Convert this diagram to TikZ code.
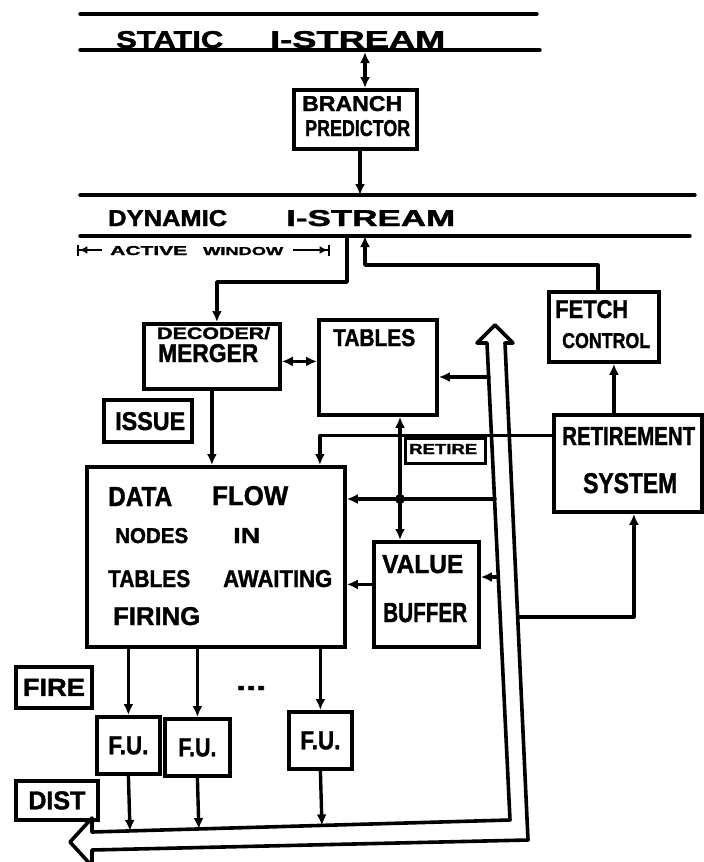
\documentclass[tikz,border=0pt]{standalone}
\usepackage{fontspec}
\setmainfont{Liberation Sans}[BoldFeatures={FakeBold=1.5}]
\usepackage{graphicx}
\usetikzlibrary{arrows.meta,calc}
\newcommand\tx[3]{\resizebox{#1pt}{#2pt}{\bfseries #3}}
\begin{document}
\begin{tikzpicture}[x=1pt,y=-1pt,
  ln/.style={line width=3.4pt, line cap=round, line join=round},
  conn/.style={ln, -{Latex[length=11pt,width=10pt]}},
  conn2/.style={ln, {Latex[length=11pt,width=10pt]}-{Latex[length=11pt,width=10pt]}},
  box/.style={draw, line width=3.8pt, inner sep=0pt, anchor=north west},
  smallbox/.style={draw, line width=2.8pt, inner sep=0pt, anchor=north west},
  lab/.style={inner sep=0pt, anchor=base west},
  ctr/.style={inner sep=0pt, anchor=center},
]
\useasboundingbox (0,0) rectangle (704,862);

% stream bars
\draw[ln] (80,14) -- (537,14);
\draw[ln] (80,50) -- (540,50);
\draw[ln] (80,195) -- (695,195);
\draw[ln] (80,236) -- (690,236);

% boxes
\node[box, minimum width=123pt, minimum height=59pt] (bp) at (292,88) {};
\node[box, minimum width=136pt, minimum height=65pt] (dec) at (142,322) {};
\node[box, minimum width=118pt, minimum height=95pt] (tab) at (317,318) {};
\node[box, minimum width=88pt, minimum height=42pt] (iss) at (102,398) {};
\node[box, minimum width=110pt, minimum height=70pt] (fc) at (547,290) {};
\node[box, minimum width=148pt, minimum height=97pt] (ret) at (552,413) {};
\node[smallbox, minimum width=80pt, minimum height=25pt] (rtl) at (404,437) {};
\node[box, minimum width=258pt, minimum height=180pt] (df) at (85,465) {};
\node[box, minimum width=105pt, minimum height=105pt] (vb) at (372,540) {};
\node[box, minimum width=63pt, minimum height=57pt] (fu1) at (95,715) {};
\node[box, minimum width=65pt, minimum height=57pt] (fu2) at (163,717) {};
\node[box, minimum width=63pt, minimum height=57pt] (fu3) at (287,710) {};
\node[box, minimum width=76pt, minimum height=41pt] (fire) at (14,665) {};
\node[box, minimum width=82pt, minimum height=39pt] (dist) at (14,779) {};

% texts
\node[lab] (t1) at (116,48) {\tx{107}{17}{STATIC}};
\node[lab] (t2) at (270,48) {\tx{175}{17}{I-STREAM}};
\node[lab] (t3) at (302,111) {\tx{100}{15}{BRANCH}};
\node[lab] (t4) at (305,136) {\tx{105}{16}{PREDICTOR}};
\node[lab] (t5) at (108,226) {\tx{119}{16}{DYNAMIC}};
\node[lab] (t6) at (286,226) {\tx{169}{16}{I-STREAM}};
\node[lab] (t7) at (110,255) {\tx{77}{9}{ACTIVE}};
\node[lab] (t8) at (203,255) {\tx{80}{8}{WINDOW}};
\node[lab] (t9) at (157,339) {\tx{113}{12}{DECODER/}};
\node[lab] (t10) at (158,362) {\tx{100}{18}{MERGER}};
\node[lab] (t11) at (333,346) {\tx{82}{17}{TABLES}};
\node[lab] (t12) at (115,430) {\tx{70}{18}{ISSUE}};
\node[lab] (t13) at (555,318) {\tx{73}{18}{FETCH}};
\node[lab] (t14) at (562,348) {\tx{88}{15}{CONTROL}};
\node[lab] (t15) at (562,445) {\tx{133}{18}{RETIREMENT}};
\node[lab] (t16) at (583,493) {\tx{94}{20}{SYSTEM}};
\node[lab] (t17) at (409,454) {\tx{68}{10}{RETIRE}};
\node[lab] (t18) at (108,506) {\tx{64}{19}{DATA}};
\node[lab] (t19) at (212,505) {\tx{76}{19}{FLOW}};
\node[lab] (t20) at (115,543) {\tx{73}{15}{NODES}};
\node[lab] (t21) at (233,543) {\tx{27}{15}{IN}};
\node[lab] (t22) at (108,587) {\tx{82}{17}{TABLES}};
\node[lab] (t23) at (223,587) {\tx{109}{17}{AWAITING}};
\node[lab] (t24) at (113,625) {\tx{87}{18}{FIRING}};
\node[lab] (t25) at (382,573) {\tx{81}{18}{VALUE}};
\node[lab] (t26) at (383,622) {\tx{84}{19}{BUFFER}};
\node[ctr] (t27) at (fu1.center) {\tx{40}{18}{F.U.}};
\node[ctr] (t28) at (fu2.center) {\tx{38}{18}{F.U.}};
\node[ctr] (t29) at (fu3.center) {\tx{40}{18}{F.U.}};
\node[ctr] (t30) at (fire.center) {\tx{62}{17}{FIRE}};
\node[ctr] (t31) at (dist.center) {\tx{57}{18}{DIST}};
\node[lab] (t32) at (236,690) {\tx{30}{4}{...}};

% active window marks
\draw[line width=2.4pt, {Bar[width=11pt]Latex[length=8pt,width=8pt]}-] (77,250) -- (102,250);
\draw[line width=2.4pt, -{Latex[length=8pt,width=8pt]Bar[width=11pt]}] (293,250) -- (330,250);

% bus
\coordinate (bI1) at (487,343);
\coordinate (bI2) at (510,820);
\coordinate (bI3) at (92,832);
\draw[line width=3.6pt, line join=round]
  (477,343) -- (495,325) -- (513,343) -- (505,343) -- (528,840) -- (92,850)
  -- (92,866) -- (70,842) -- (92,818) -- (bI3) -- (bI2) -- (bI1) -- cycle;

% connectors
\coordinate (s1) at (365,52);
\draw[conn2] (s1) -- (s1 |- bp.north);
\coordinate (d1) at (360,195);
\draw[conn] (d1 |- bp.south) -- (d1);
\coordinate (d2) at (347,236);
\draw[conn] (d2) -- ++(0,46) -| ([xshift=5pt]dec.north);
\coordinate (d3) at (365,236);
\draw[conn] ([xshift=-6pt]fc.north) -- ++(0,-25) -| (d3);
\coordinate (de) at ([yshift=-5pt]dec.east);
\draw[conn2] (de) -- (de -| tab.west);
\coordinate (b1) at (489,377);
\draw[conn] (b1) -- (b1 -| tab.east);
\coordinate (r1) at ([xshift=-14pt]ret.north);
\draw[conn] (r1) -- (r1 |- fc.south);
\coordinate (r2) at ([yshift=28pt]ret.west);
\coordinate (r3) at ([xshift=104pt]df.north);
\draw[conn] (r2) -| (r3);
\draw[conn] (dec.south) -- (dec.south |- df.north);
\coordinate (j) at (400,499);
\draw[conn2] (j |- tab.south) -- (j |- vb.north);
\coordinate (b2) at (495,499);
\draw[conn] (b2) -- (b2 -| df.east);
\fill (j) circle (5pt);
\coordinate (v1) at ([yshift=10pt]vb.west);
\draw[conn] (v1) -- (v1 -| df.east);
\coordinate (b3) at (498,577);
\draw[conn] (b3) -- (b3 -| vb.east);
\coordinate (b4) at (518,617);
\coordinate (r4) at ([xshift=6pt]ret.south);
\draw[conn] (b4) -| (r4);
\foreach \f in {fu1,fu2,fu3} {
  \draw[conn] (\f.north |- df.south) -- (\f.north);
  \draw[conn] (\f.south) -- ($(bI3)!(\f.south)!(bI2)$);
}
\end{tikzpicture}
\end{document}
